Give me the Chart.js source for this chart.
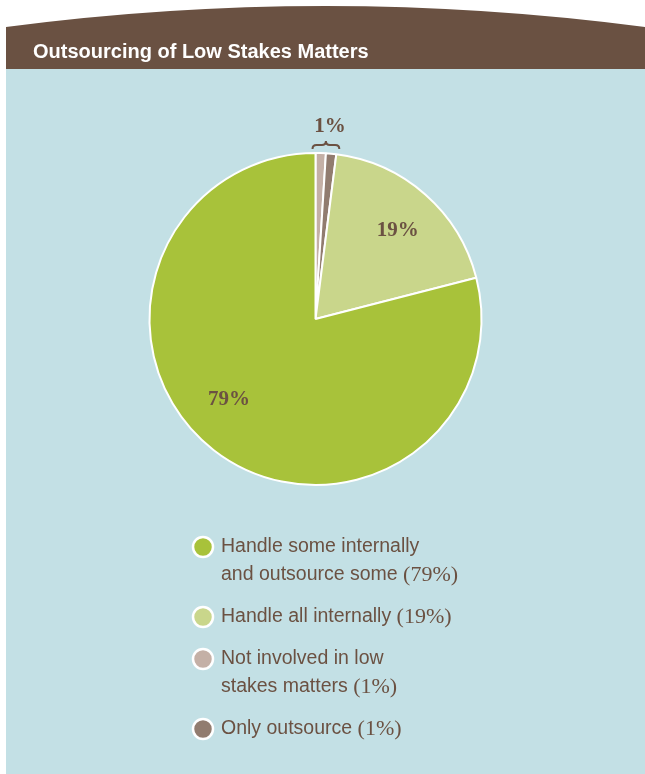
<!DOCTYPE html>
<html>
<head>
<meta charset="utf-8">
<script src="https://cdn.jsdelivr.net/npm/chart.js@4"></script>
<style>
  html, body { margin: 0; padding: 0; background: #fff; }
  #chart { display: block; }
</style>
</head>
<body>
<canvas id="chart" width="645" height="774"></canvas>
<script>
// data, in legend order
const chartTitle = 'Outsourcing of Low Stakes Matters';
const categories = [
  'Handle some internally and outsource some',
  'Handle all internally',
  'Not involved in low stakes matters',
  'Only outsource'
];
const legendLines = [
  ['Handle some internally', 'and outsource some'],
  ['Handle all internally'],
  ['Not involved in low', 'stakes matters'],
  ['Only outsource']
];
const shares = [79, 19, 1, 1];
const sliceColors = ['#a8c23a', '#c9d68b', '#c4b0a6', '#917c6f'];
// order of slices clockwise from 12 o'clock
const sliceOrder = [2, 3, 1, 0];

const textColor = '#6b5142';
const serif = '"Liberation Serif", "DejaVu Serif", serif';
const sans = '"Liberation Sans", Arial, sans-serif';

const framePlugin = {
  id: 'frame',
  beforeDraw(chart) {
    const ctx = chart.ctx;
    ctx.save();
    ctx.fillStyle = '#ffffff';
    ctx.fillRect(0, 0, chart.width, chart.height);
    // panel
    ctx.fillStyle = '#c3e0e5';
    ctx.fillRect(6, 69, chart.width - 6, chart.height - 69);
    // header band with arched top
    ctx.fillStyle = '#6a5142';
    ctx.beginPath();
    ctx.moveTo(6, 69);
    ctx.lineTo(6, 27);
    ctx.quadraticCurveTo(325.5, -15, 645, 27);
    ctx.lineTo(645, 69);
    ctx.closePath();
    ctx.fill();
    // title
    ctx.fillStyle = '#ffffff';
    ctx.font = 'bold 20px ' + sans;
    ctx.textBaseline = 'alphabetic';
    ctx.textAlign = 'left';
    ctx.fillText(chartTitle, 33, 58);
    ctx.restore();
  }
};

const labelPlugin = {
  id: 'sliceLabels',
  afterDatasetsDraw(chart) {
    const ctx = chart.ctx;
    const meta = chart.getDatasetMeta(0);
    const values = chart.data.datasets[0].data;
    ctx.save();
    ctx.fillStyle = textColor;
    ctx.strokeStyle = textColor;
    ctx.textAlign = 'center';
    ctx.textBaseline = 'middle';
    ctx.font = 'bold 21px ' + serif;
    let small = [];
    meta.data.forEach((arc, i) => {
      const v = values[i];
      if (v < 5) { small.push(arc); return; }
      const a = arc.startAngle + 0.53 * (arc.endAngle - arc.startAngle);
      const r = arc.outerRadius * 0.72;
      ctx.fillText(v + '%', arc.x + Math.cos(a) * r, arc.y + Math.sin(a) * r - 2);
    });
    if (small.length) {
      // bracket over the thin slices at the top
      const a0 = small[0].startAngle;
      const a1 = small[small.length - 1].endAngle;
      const R = small[0].outerRadius;
      const cx = small[0].x, cy = small[0].y;
      const x0 = cx + Math.cos(a0) * R - 3;
      const x1 = cx + Math.cos(a1) * R + 3;
      const xm = (x0 + x1) / 2;
      const top = cy - R;
      const yb = top - 4, yt = top - 12, ym = top - 8;
      ctx.lineWidth = 2;
      ctx.beginPath();
      ctx.moveTo(x0, yb);
      ctx.quadraticCurveTo(x0, ym, x0 + 4, ym);
      ctx.lineTo(xm - 4, ym);
      ctx.quadraticCurveTo(xm, ym, xm, yt);
      ctx.quadraticCurveTo(xm, ym, xm + 4, ym);
      ctx.lineTo(x1 - 4, ym);
      ctx.quadraticCurveTo(x1, ym, x1, yb);
      ctx.stroke();
      ctx.fillText(values[meta.data.indexOf(small[0])] + '%', xm + 4, top - 26);
    }
    ctx.restore();
  }
};

const legendPlugin = {
  id: 'sideLegend',
  afterDraw(chart) {
    const ctx = chart.ctx;
    ctx.save();
    ctx.textBaseline = 'middle';
    ctx.textAlign = 'left';
    let y = 547;
    const lineH = 28;
    const gap = 42;
    categories.forEach((cat, i) => {
      ctx.beginPath();
      ctx.arc(203, y, 10, 0, Math.PI * 2);
      ctx.fillStyle = sliceColors[i];
      ctx.fill();
      ctx.lineWidth = 2.5;
      ctx.strokeStyle = '#ffffff';
      ctx.stroke();
      const lines = legendLines[i];
      lines.forEach((ln, j) => {
        const ly = y + j * lineH;
        ctx.fillStyle = textColor;
        ctx.font = '19.5px ' + sans;
        ctx.fillText(ln, 221, ly);
        if (j === lines.length - 1) {
          const w = ctx.measureText(ln + ' ').width;
          ctx.font = '22px ' + serif;
          ctx.fillText('(' + shares[i] + '%)', 221 + w, ly);
        }
      });
      y += (lines.length - 1) * lineH + gap;
    });
    ctx.restore();
  }
};

new Chart(document.getElementById('chart'), {
  type: 'pie',
  data: {
    labels: sliceOrder.map(i => categories[i]),
    datasets: [{
      data: sliceOrder.map(i => shares[i]),
      backgroundColor: sliceOrder.map(i => sliceColors[i]),
      borderColor: '#ffffff',
      borderWidth: 2
    }]
  },
  options: {
    responsive: false,
    animation: false,
    layout: {
      padding: { left: 148.5, right: 162.5, top: 152, bottom: 288 }
    },
    plugins: {
      legend: { display: false },
      tooltip: { enabled: false },
      title: { display: false }
    }
  },
  plugins: [framePlugin, labelPlugin, legendPlugin]
});
</script>
</body>
</html>
